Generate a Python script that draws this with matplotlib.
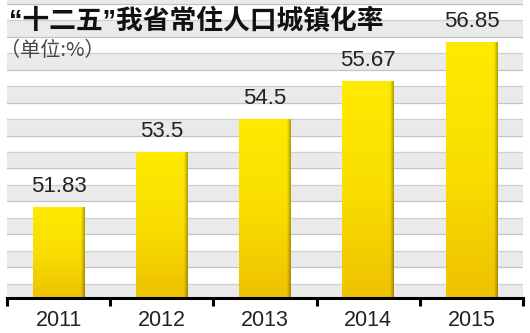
import numpy as np
import matplotlib
matplotlib.use("Agg")
import matplotlib.pyplot as plt
from matplotlib.colors import LinearSegmentedColormap

years = ["2011", "2012", "2013", "2014", "2015"]
values = [51.83, 53.5, 54.5, 55.67, 56.85]
value_labels = ["51.83", "53.5", "54.5", "55.67", "56.85"]
title = "“十二五”我省常住人口城镇化率"
subtitle = "（单位:%）"

W, H = 530, 333
fig = plt.figure(figsize=(W / 100, H / 100), dpi=100)
fig.patch.set_facecolor("white")

base_y = 298
ax = fig.add_axes([7 / W, (H - base_y) / H, 516 / W, base_y / H])
ymin, ymax = 49.06, 58.12
ax.set_ylim(ymin, ymax)
ax.set_xlim(-0.5, len(years) - 0.5)
ax.set_facecolor("white")

# striped background
for n in range(48, 60):
    ax.axhspan(n, n + 0.5, color="#eaeaea", lw=0, zorder=0)
    ax.axhline(n, color="#c4c4c4", lw=0.9, zorder=0.5)
    ax.axhline(n + 0.5, color="#cfcfcf", lw=0.9, zorder=0.5)

x = np.arange(len(years))
bars = ax.bar(x, values, width=0.5, bottom=0, color="#f7d800", lw=0, zorder=2)

cmap = LinearSegmentedColormap.from_list("gold", ["#efc200", "#f9de00", "#ffea00"])
ny, nx = 100, 60
gy = np.linspace(0, 1, ny)[:, None]
gx = np.linspace(0, 1, nx)[None, :]
grad = gy * np.ones_like(gx)
img = cmap(grad)
edge = np.clip((gx - 0.93) / 0.07, 0, 1)
img[..., :3] = img[..., :3] * (1 - 0.3 * edge[..., None])
for b in bars:
    x0, y0 = b.get_x(), ymin
    x1, y1 = x0 + b.get_width(), b.get_height()
    im = ax.imshow(img, extent=[x0, x1, y0, y1], origin="lower",
                   aspect="auto", zorder=3, interpolation="bilinear")
    im.set_clip_path(b)

for xi, v, lab in zip(x, values, value_labels):
    ax.annotate(lab, (xi, v), xytext=(0, 7), textcoords="offset points",
                ha="center", va="bottom", fontsize=16, color="#222222",
                family="Liberation Sans", zorder=5)

ax.set_ylim(ymin, ymax)
ax.set_xlim(-0.5, len(years) - 0.5)

for s in ["top", "right", "left"]:
    ax.spines[s].set_visible(False)
ax.spines["bottom"].set_color("black")
ax.spines["bottom"].set_linewidth(2.2)
ax.spines["bottom"].set_zorder(6)
ax.set_yticks([])
ax.set_xticks(x)
ax.set_xticklabels(years, fontsize=15.5, family="Liberation Sans", color="#222222")
ax.tick_params(axis="x", which="major", length=0, pad=9)
ax.set_xticks(np.arange(-0.5, len(years)), minor=True)
ax.tick_params(axis="x", which="minor", length=6, width=2.2, color="black", direction="out")

fig.text(9 / W, 1 - 8 / H, title, fontsize=19.3, fontweight="bold",
         family=["Liberation Sans", "Noto Sans CJK SC"], color="#111111", va="top", ha="left")
fig.text(0 / W, 1 - 40 / H, subtitle, fontsize=14.5,
         family=["Noto Sans CJK SC", "DejaVu Sans"], color="#444444", va="top", ha="left")

fig.savefig("out.png", dpi=100, facecolor="white")
